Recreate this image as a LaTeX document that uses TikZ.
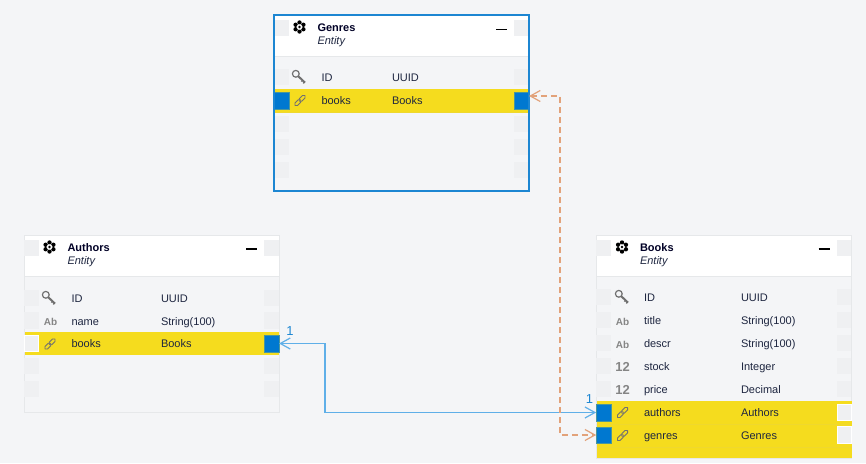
\documentclass[tikz,border=0pt]{standalone}
\usepackage{fontspec}
\setmainfont{Liberation Sans}
\usetikzlibrary{arrows.meta}
\definecolor{pagebg}{HTML}{F4F5F7}
\definecolor{ghost}{HTML}{EFF0F2}
\definecolor{hlyellow}{HTML}{F5DC1E}
\definecolor{hlline}{HTML}{EFD82E}
\definecolor{portblue}{HTML}{0078D0}
\definecolor{selblue}{HTML}{1C86D2}
\definecolor{wire}{HTML}{5FAFE8}
\definecolor{wireo}{HTML}{E2A27A}
\definecolor{inktext}{HTML}{1E2640}
\definecolor{icongray}{HTML}{707070}
\definecolor{edge}{HTML}{E6E8EA}
\tikzset{
  x=1pt,y=-1pt,
  every node/.style={inner sep=0pt,outer sep=0pt},
  ghostport/.style={fill=ghost,minimum width=14.5pt,minimum height=16.5pt},
  blueport/.style={fill=portblue,draw=portblue!70!hlyellow,line width=.4pt,minimum width=14.6pt,minimum height=16.5pt},
  whiteport/.style={fill=ghost,draw=white,line width=.8pt,minimum width=14.2pt,minimum height=16.5pt},
  titletext/.style={anchor=base west,font=\fontsize{11}{13}\selectfont\bfseries,text=black!85!blue},
  kindtext/.style={anchor=base west,font=\fontsize{11}{13}\selectfont\itshape,text=inktext},
  celltext/.style={anchor=base west,font=\fontsize{11}{13}\selectfont,text=inktext},
  abicon/.style={anchor=base,font=\fontsize{10}{12}\selectfont\bfseries,text=icongray!85!white},
  numicon/.style={anchor=base,font=\fontsize{13}{14}\selectfont\bfseries,text=icongray!85!white},
  countlabel/.style={font=\fontsize{13}{14}\selectfont,text=selblue},
  bluewire/.style={draw=wire,line width=1.2pt,{Straight Barb[length=10pt,width=11pt]}-{Straight Barb[length=10pt,width=11pt]}},
  orangewire/.style={draw=wireo,line width=1.2pt,dash pattern=on 6pt off 4pt,{Straight Barb[length=10pt,width=11pt]}-{Straight Barb[length=10pt,width=11pt]}},
  minusicon/.pic={\draw[black,line width=1.2pt] (-5.5,0) -- (5.5,0);},
  cubeicon/.pic={
    \foreach \ang in {30,90,...,330}{\fill[black] (\ang:4.5) circle (2.2);}
    \fill[white] (0,0) circle (2.7);
    \fill[black] (0,0) circle (1.3);
  },
  keyicon/.pic={
    \draw[icongray,line width=1.2pt] (-3.2,-3.2) circle (3.4);
    \draw[icongray,line width=2pt] (-0.8,-0.8) -- (6,5.6);
    \draw[icongray,line width=1.2pt] (3.6,3.2) -- (2.4,4.6) (5.4,5) -- (4.2,6.4);
  },
  linkicon/.pic={
    \begin{scope}[rotate=45]
      \draw[icongray,line width=.8pt,rounded corners=1.6pt] (-7,-1.8) rectangle (0.8,1.8);
      \draw[icongray,line width=.8pt,rounded corners=1.6pt] (-0.8,-1.8) rectangle (7,1.8);
    \end{scope}
  },
}
\begin{document}
\begin{tikzpicture}
\useasboundingbox (0,0) rectangle (866,463);
\fill[pagebg] (0,0) rectangle (866,463);

% ---------- Genres ----------
\fill[white] (275,16) rectangle (528,56);
\draw[edge,line width=.8pt] (275,56) -- (528,56);
\fill[hlyellow] (275,88.5) rectangle (528,112);
\draw[hlline,line width=.5pt] (275,112) -- (528,112);
\node[ghostport] (gt1) at (281.5,28) {};
\node[ghostport] (gt2) at (521.5,28) {};
\node[ghostport] (gi1) at (281.5,77) {};
\node[ghostport] (gi2) at (521.5,77) {};
\node[blueport] (gbl) at (281.5,100.5) {};
\node[blueport] (gbr) at (521.7,100.5) {};
\foreach \yy/\nm in {124/a,147/b,170/c}{
  \node[ghostport] (ge1\nm) at (281.5,\yy) {};
  \node[ghostport] (ge2\nm) at (521.5,\yy) {};
}
\draw[selblue,line width=1.5pt] (274,15) rectangle (529,191);
\pic at (299.5,27) {cubeicon};
\node[titletext] (gtitle) at (317.5,31) {Genres};
\node[kindtext] (gkind) at (317.5,44) {Entity};
\pic at (501.5,29.5) {minusicon};
\pic at (299,77) {keyicon};
\pic at (300,100.5) {linkicon};
\node[celltext] (gid) at (321.5,81) {ID};
\node[celltext] (gidt) at (392,81) {UUID};
\node[celltext] (gbk) at (321.5,104) {books};
\node[celltext] (gbkt) at (392,104) {Books};

% ---------- Authors ----------
\fill[white] (24,235.5) rectangle (279,276);
\draw[edge,line width=1pt] (24,276.5) -- (279,276.5);
\draw[edge,line width=1pt] (24,235.5) rectangle (279,412);
\fill[hlyellow] (24.5,332) rectangle (278.5,355);
\node[ghostport] (at1) at (31.5,248) {};
\node[ghostport] (at2) at (271.5,248) {};
\node[ghostport] (ai1) at (31.5,298) {};
\node[ghostport] (ai2) at (271.5,298) {};
\node[ghostport] (an1) at (31.5,320.5) {};
\node[ghostport] (an2) at (271.5,320.5) {};
\node[whiteport] (abl) at (31.5,343.5) {};
\node[blueport] (abr) at (271.7,343.5) {};
\foreach \yy/\nm in {366/a,389/b}{
  \node[ghostport] (ae1\nm) at (31.5,\yy) {};
  \node[ghostport] (ae2\nm) at (271.5,\yy) {};
}
\pic at (49.5,247) {cubeicon};
\node[titletext] (atitle) at (67.5,251) {Authors};
\node[kindtext] (akind) at (67.5,264) {Entity};
\pic at (251.5,249) {minusicon};
\pic at (49,298) {keyicon};
\node[abicon] (aab) at (50.5,325) {Ab};
\pic at (50,344) {linkicon};
\node[celltext] (aid) at (71.5,302) {ID};
\node[celltext] (aidt) at (161,302) {UUID};
\node[celltext] (anm) at (71.5,325) {name};
\node[celltext] (anmt) at (161,325) {String(100)};
\node[celltext] (abk) at (71.5,347) {books};
\node[celltext] (abkt) at (161,347) {Books};

% ---------- Books ----------
\fill[white] (596.5,235.5) rectangle (851.5,276);
\draw[edge,line width=1pt] (596.5,276.5) -- (851.5,276.5);
\draw[edge,line width=1pt] (596,235.5) rectangle (851.5,458);
\fill[hlyellow] (596.5,401) rectangle (851.5,458);
\draw[hlline,line width=.5pt] (596.5,424) -- (851.5,424) (596.5,447.5) -- (851.5,447.5);
\node[ghostport] (bt1) at (603.5,248) {};
\node[ghostport] (bt2) at (844,248) {};
\foreach \yy/\nm in {297/a,320/b,343/c,366/d,389/e}{
  \node[ghostport] (br1\nm) at (603.5,\yy) {};
  \node[ghostport] (br2\nm) at (844,\yy) {};
}
\node[blueport] (bal) at (603.5,412.5) {};
\node[blueport] (bgl) at (603.5,435) {};
\node[whiteport] (bar) at (844.3,412.5) {};
\node[whiteport] (bgr) at (844.3,435) {};
\pic at (622,247) {cubeicon};
\node[titletext] (btitle) at (640,251) {Books};
\node[kindtext] (bkind) at (640,264) {Entity};
\pic at (824,249) {minusicon};
\pic at (622,297) {keyicon};
\node[abicon] (bab1) at (622.5,325) {Ab};
\node[abicon] (bab2) at (622.5,348) {Ab};
\node[numicon] (bnum1) at (622.5,371) {12};
\node[numicon] (bnum2) at (622.5,394) {12};
\pic at (622.5,412.5) {linkicon};
\pic at (622.5,435.5) {linkicon};
\foreach \yy/\cola/\colb/\nm in {301/ID/UUID/a,324/title/String(100)/b,347/descr/String(100)/c,370/stock/Integer/d,393/price/Decimal/e,416/authors/Authors/f,439/genres/Genres/g}{
  \node[celltext] (bc1\nm) at (644,\yy) {\cola};
  \node[celltext] (bc2\nm) at (741,\yy) {\colb};
}

% ---------- Connectors ----------
\coordinate (bluemid) at (325,380);
\coordinate (orangemid) at (560,260);
\draw[bluewire] (abr.east) -| (bluemid) |- (bal.west);
\draw[orangewire] ([yshift=4.5pt]gbr.east) -| (orangemid) |- (bgl.west);
\node[countlabel] (cnta) at (290,331) {1};
\node[countlabel] (cntb) at (589.5,399.5) {1};
\end{tikzpicture}
\end{document}
